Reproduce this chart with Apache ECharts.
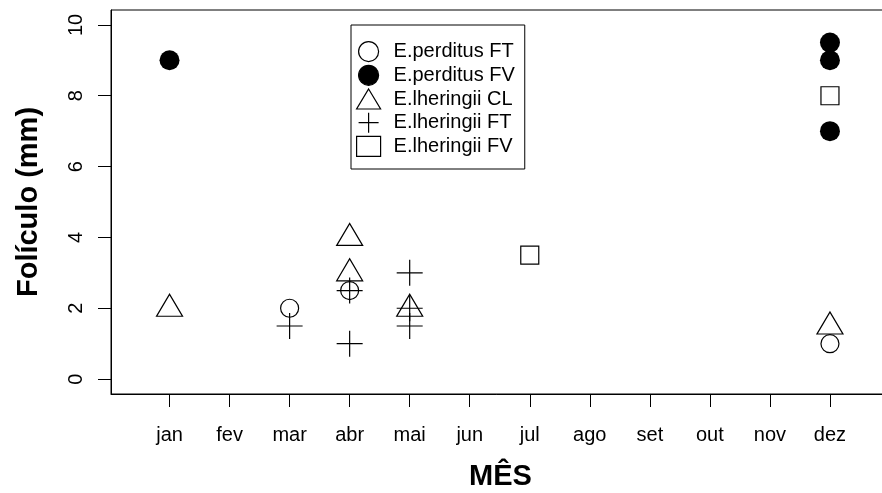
<!DOCTYPE html>
<html>
<head>
<meta charset="utf-8">
<script src="https://cdn.jsdelivr.net/npm/echarts@6/dist/echarts.min.js"></script>
<style>
  html, body { margin: 0; padding: 0; background: #fff; }
  #chart { width: 882px; height: 493px; }
</style>
</head>
<body>
<div id="chart"></div>
<script>
  // month labels (x = 1..12)
  const months = ['jan', 'fev', 'mar', 'abr', 'mai', 'jun', 'jul', 'ago', 'set', 'out', 'nov', 'dez']
  const yTicks = [0, 2, 4, 6, 8, 10]

  // [month index, follicle mm]
  const perditusFT = [[3, 2], [4, 2.5], [12, 1]]
  const perditusFV = [[1, 9], [12, 9.5], [12, 9], [12, 7]]
  const lheringiiCL = [[1, 2], [4, 4], [4, 3], [5, 2], [12, 1.5]]
  const lheringiiFT = [[3, 1.5], [4, 2.5], [4, 1], [5, 3], [5, 2], [5, 1.5]]
  const lheringiiFV = [[7, 3.5], [12, 8]]

  const font = '"Liberation Sans", Arial, sans-serif'
  const plus = 'path://M0,12L24,12M12,0L12,24'
  const open = 'rgba(0,0,0,0)'

  const chart = echarts.init(document.getElementById('chart'), null, { renderer: 'canvas' })

  const option = {
    animation: false,
    backgroundColor: '#fff',
    grid: {
      left: 111,
      top: 10,
      width: 779,
      height: 384,
      outerBoundsMode: 'none',
      show: true,
      borderColor: '#000',
      borderWidth: 1
    },
    legend: {
      orient: 'vertical',
      left: 351,
      top: 25,
      borderColor: '#000',
      borderWidth: 1,
      padding: [16, 10, 12, 5],
      itemWidth: 24,
      itemHeight: 20,
      itemGap: 2.5,
      selectedMode: false,
      itemStyle: { borderWidth: 1.2 },
      textStyle: {
        fontFamily: font,
        fontSize: 20,
        lineHeight: 20,
        color: '#000',
        padding: [0, 0, 0, 8]
      },
      data: ['E.perditus FT', 'E.perditus FV', 'E.lheringii CL', 'E.lheringii FT', 'E.lheringii FV']
    },
    xAxis: {
      type: 'value',
      min: 0.025,
      max: 13,
      name: 'MÊS',
      nameLocation: 'middle',
      nameGap: 68,
      nameTextStyle: { fontFamily: font, fontSize: 29, fontWeight: 'bold', color: '#000' },
      axisLine: { show: true, onZero: false, lineStyle: { color: '#000', width: 1 } },
      axisTick: { show: true, length: 13, customValues: months.map((m, i) => i + 1), lineStyle: { color: '#000' } },
      axisLabel: {
        customValues: months.map((m, i) => i + 1),
        margin: 31,
        fontFamily: font,
        fontSize: 20,
        color: '#000',
        formatter: function(v) {
          return months[Math.round(v) - 1] || ''
        }
      },
      splitLine: { show: false }
    },
    yAxis: {
      type: 'value',
      min: -0.42,
      max: 10.42,
      name: 'Folículo (mm)',
      nameLocation: 'middle',
      nameGap: 68,
      nameTextStyle: { fontFamily: font, fontSize: 29, fontWeight: 'bold', color: '#000' },
      axisLine: { show: true, onZero: false, lineStyle: { color: '#000', width: 1 } },
      axisTick: { show: true, length: 13, customValues: yTicks, lineStyle: { color: '#000' } },
      axisLabel: {
        customValues: yTicks,
        rotate: 90,
        margin: 25,
        fontFamily: font,
        fontSize: 20,
        color: '#000'
      },
      splitLine: { show: false }
    },
    series: [{
      name: 'E.perditus FT',
      type: 'scatter',
      symbol: 'circle',
      symbolSize: 18,
      itemStyle: { color: open, borderColor: '#000', borderWidth: 1.2, opacity: 1 },
      data: perditusFT
    }, {
      name: 'E.perditus FV',
      type: 'scatter',
      symbol: 'circle',
      symbolSize: 20,
      itemStyle: { color: '#000', borderColor: '#000', borderWidth: 0, opacity: 1 },
      data: perditusFV
    }, {
      name: 'E.lheringii CL',
      type: 'scatter',
      symbol: 'triangle',
      symbolSize: [26, 22],
      symbolOffset: [0, -3],
      itemStyle: { color: open, borderColor: '#000', borderWidth: 1.2, opacity: 1 },
      data: lheringiiCL
    }, {
      name: 'E.lheringii FT',
      type: 'scatter',
      symbol: plus,
      symbolSize: 26,
      itemStyle: { color: open, borderColor: '#000', borderWidth: 1.2, opacity: 1 },
      data: lheringiiFT
    }, {
      name: 'E.lheringii FV',
      type: 'scatter',
      symbol: 'rect',
      symbolSize: 18,
      itemStyle: { color: open, borderColor: '#000', borderWidth: 1.2, opacity: 1 },
      data: lheringiiFV
    }]
  }

  chart.setOption(option)
</script>
</body>
</html>
